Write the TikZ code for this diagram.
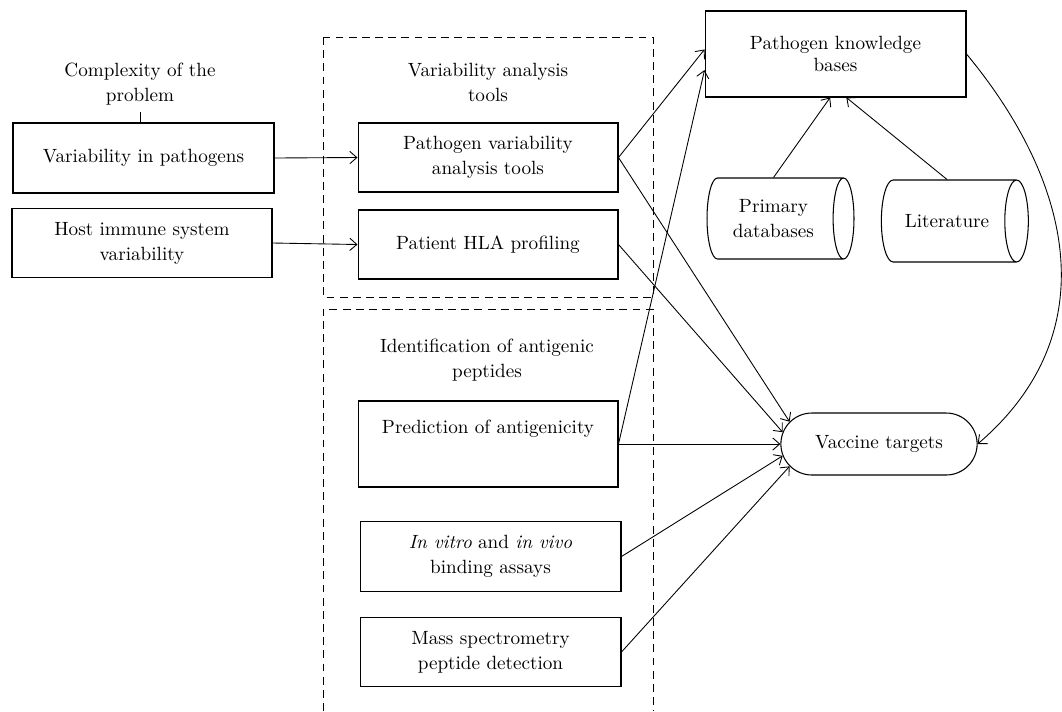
\documentclass[tikz,border=0pt]{standalone}
\usepackage{tikz}
\usetikzlibrary{positioning, arrows.meta, calc, shapes.geometric, shapes.misc}

\begin{document}
\begin{tikzpicture}[
    x=0.02cm, y=-0.02cm,
    every node/.style={font=\fontsize{10.9}{14.2}\selectfont, align=center},
    box/.style={rectangle, draw, line width=0.6pt, minimum width=5.2cm, minimum height=1.38cm, inner sep=2pt},
    db/.style={cylinder, draw, line width=0.6pt, aspect=0.5, minimum height=2.94cm, minimum width=1.62cm, inner sep=1pt},
    goal/.style={rounded rectangle, draw, line width=0.6pt, minimum width=4.16cm, minimum height=1.24cm},
    grp/.style={line width=0.5pt, dash pattern=on 4.5pt off 3pt},
    arr/.style={-{Straight Barb[length=4pt, width=7pt]}, line width=0.5pt}
]
  \useasboundingbox (0,0) rectangle (1062,711);

  \draw[grp] (323,37) rectangle (653,297);
  \draw[grp] (323,711) -- (323,309) -- (653,309) -- (653,711);

  \node (comp) at (140,84.5) {Complexity of the\\problem};
  \node[box, minimum width=5.22cm, minimum height=1.4cm] (varpath) at (143.5,158) {Variability in pathogens};
  \node[box] (host) at (142,243) {Host immune system\\variability};

  \node (vatitle) at (488,82.5) {Variability analysis\\tools};
  \node[box] (pvat) at (488,157.5) {Pathogen variability\\analysis tools};
  \node[box] (hla) at (488,244.5) {Patient HLA profiling};

  \node (idtitle) at (487,360) {Identification of antigenic\\peptides};
  \node[box, minimum height=1.72cm] (pred) at (488,444) {Prediction of antigenicity\\[6pt]};
  \node[box, minimum width=5.22cm, minimum height=1.39cm] (invitro) at (490.5,556.5) {\textit{In vitro} and \textit{in vivo}\\binding assays};
  \node[box, minimum width=5.22cm, minimum height=1.39cm] (mass) at (490.5,652) {Mass spectrometry\\peptide detection};

  \node[box, minimum width=5.22cm, minimum height=1.72cm] (pkb) at (835.5,54) {Pathogen knowledge\\[-2pt]bases};
  \node[db] (primdb) at (773.5,218.5) {Primary\\databases};
  \node[db, minimum width=1.64cm, aspect=1.4] (lit) at (947,221) {Literature};
  \node[goal] (vac) at (879,444) {Vaccine targets};

  \draw[line width=0.5pt] (comp.south) -- (comp.south |- varpath.north);
  \draw[arr] (varpath.east) -- (pvat.west);
  \draw[arr] (host.east) -- (hla.west);

  \draw[arr] (pvat.east) -- (pkb.178);
  \draw[arr] (pvat.east) -- (vac.166);
  \draw[arr] (hla.east) -- (vac.173);
  \draw[arr] (pred.east) -- (pkb.187);
  \draw[arr] (pred.east) -- (vac.west);
  \draw[arr] (invitro.east) -- (vac.187);
  \draw[arr] (mass.east) -- (vac.194);

  \draw[arr] (primdb.north) -- (pkb.263);
  \draw[arr] (lit.north) -- (pkb.284);
  \draw[arr] (pkb.east) .. controls (1075,185) and (1105,335) .. (vac.east);
\end{tikzpicture}
\end{document}
